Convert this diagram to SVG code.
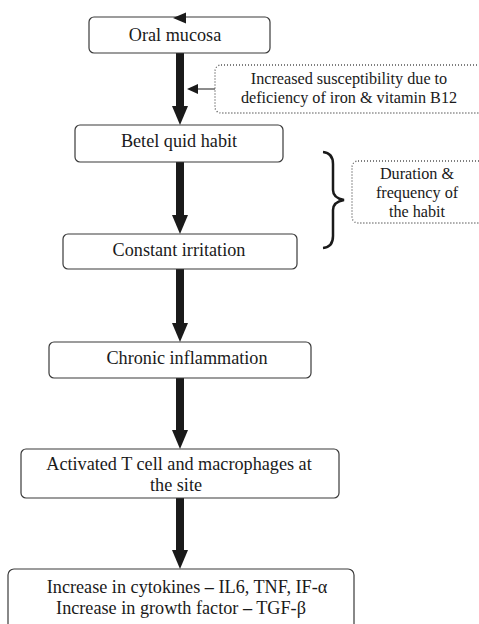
<svg xmlns="http://www.w3.org/2000/svg" width="479" height="624" viewBox="0 0 479 624">
<style>
.box{fill:#fff;stroke:#3a3a3a;stroke-width:1.2}
.note{fill:#fff;stroke:#555;stroke-width:1.3;stroke-dasharray:1 2}
.t{font-family:'Liberation Serif','Times New Roman',serif;font-size:18.2px;fill:#1a1a1a;text-anchor:middle}
.n{font-family:'Liberation Serif','Times New Roman',serif;font-size:16.2px;fill:#1a1a1a;text-anchor:middle}
.shaft{stroke:#1a1a1a;stroke-width:8}
.head{fill:#1a1a1a}
</style>
<rect width="479" height="624" fill="#fff"/>
<g id="connectors">
<line class="shaft" x1="180" y1="53" x2="180" y2="108"/><polygon class="head" points="172,106 188,106 180,125"/>
<line class="shaft" x1="180" y1="162" x2="180" y2="217"/><polygon class="head" points="172,215 188,215 180,234"/>
<line class="shaft" x1="180" y1="269" x2="180" y2="325"/><polygon class="head" points="172,323 188,323 180,342"/>
<line class="shaft" x1="180" y1="378" x2="180" y2="432"/><polygon class="head" points="172,430 188,430 180,449"/>
<line class="shaft" x1="180" y1="498" x2="180" y2="552"/><polygon class="head" points="172,550 188,550 180,569"/>
<line x1="197" y1="89" x2="215" y2="89" stroke="#1a1a1a" stroke-width="1"/>
<polygon class="head" points="187,89 198,84 198,94"/>
<path d="M323,152 Q333,153 333,164 L333,190 Q333,198 344,200 Q333,202 333,210 L333,236 Q333,247 323,248" fill="none" stroke="#1a1a1a" stroke-width="2.5"/>
</g>
<g id="oral-mucosa"><rect class="box" x="89" y="17" width="181" height="36" rx="5"/><text class="t" x="175" y="41">Oral mucosa</text><polygon class="head" points="173,18 186,12.5 186,23.5"/></g>
<g id="susceptibility"><rect class="note" x="215" y="65" width="280" height="48" rx="6"/><text class="n" x="349" y="84">Increased susceptibility due to</text><text class="n" x="349" y="103">deficiency of iron &amp; vitamin B12</text></g>
<g id="betel"><rect class="box" x="75" y="125" width="208" height="37" rx="5"/><text class="t" x="179" y="147">Betel quid habit</text></g>
<g id="duration"><rect class="note" x="352" y="161" width="140" height="62" rx="6"/><text class="n" x="417" y="179">Duration &amp;</text><text class="n" x="417" y="198">frequency of</text><text class="n" x="417" y="217">the habit</text></g>
<g id="irritation"><rect class="box" x="63" y="234" width="234" height="35" rx="5"/><text class="t" x="179" y="256">Constant irritation</text></g>
<g id="inflammation"><rect class="box" x="49" y="342" width="262" height="36" rx="5"/><text class="t" x="187" y="364">Chronic inflammation</text></g>
<g id="activated"><rect class="box" x="21" y="449" width="318" height="49" rx="5"/><text class="t" x="179" y="470">Activated T cell and macrophages at</text><text class="t" x="176" y="491">the site</text></g>
<g id="cytokines"><rect class="box" x="8" y="569" width="346" height="70" rx="6"/><text class="t" x="187" y="593" font-size="18.6">Increase in cytokines <tspan font-weight="bold">–</tspan> IL6, TNF, IF-α</text><text class="t" x="181" y="614" font-size="18.6">Increase in growth factor <tspan font-weight="bold">–</tspan> TGF-β</text></g>
</svg>
